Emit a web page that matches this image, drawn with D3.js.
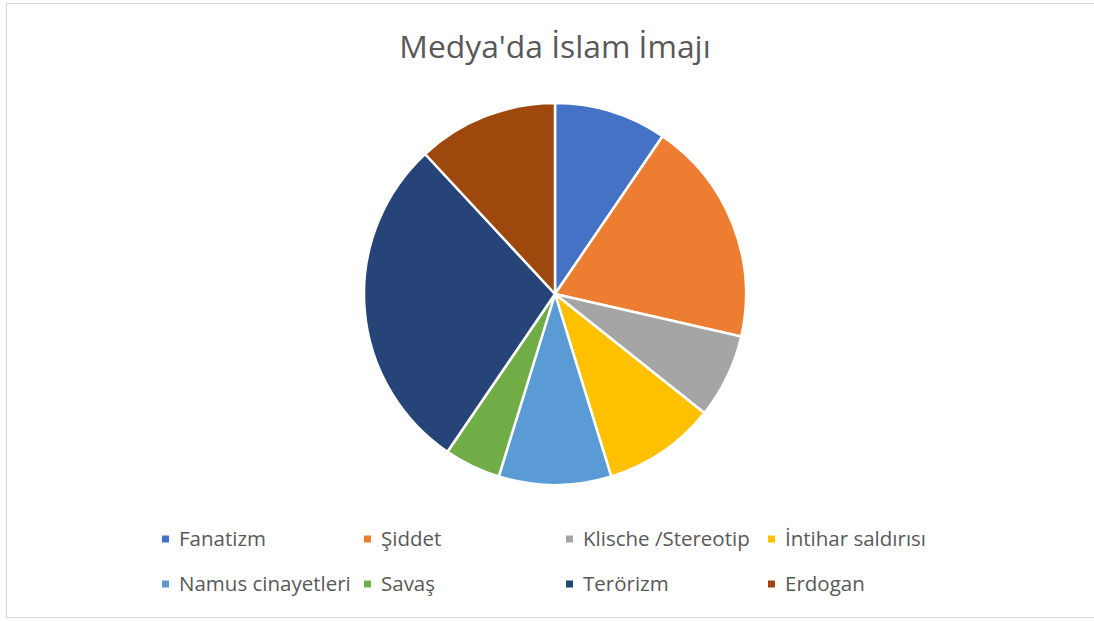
<!DOCTYPE html>
<html>
<head>
<meta charset="utf-8">
<script src="https://cdn.jsdelivr.net/npm/d3@7"></script>
<style>
  body { margin: 0; background: #fff; }
  svg text { font-family: "Open Sans", "Liberation Sans", sans-serif; fill: #595959; }
</style>
</head>
<body>
<svg id="chart" width="1094" height="621"></svg>
<script>
const categories = ['Fanatizm', 'Şiddet', 'Klische /Stereotip', 'İntihar saldırısı', 'Namus cinayetleri', 'Savaş', 'Terörizm', 'Erdogan']
const values = [8, 16, 6, 8, 8, 4, 24, 10]
const colors = ['#4472C4', '#ED7D31', '#A5A5A5', '#FFC000', '#5B9BD5', '#70AD47', '#264478', '#9E480E']
const title = "Medya'da İslam İmajı"

const data = categories.map((c, i) => ({ name: c, value: values[i], color: colors[i] }))

const svg = d3.select('#chart')

// chart area border
svg.append('rect')
  .attr('x', 6.5).attr('y', 3.5)
  .attr('width', 1094).attr('height', 614)
  .attr('fill', 'none')
  .attr('stroke', '#d9d9d9')
  .attr('stroke-width', 1)

svg.append('text')
  .attr('x', 555).attr('y', 57.5)
  .attr('text-anchor', 'middle')
  .attr('font-size', 31.8)
  .text(title)

const pie = d3.pie().sort(null).value(d => d.value)
const arc = d3.arc().innerRadius(0).outerRadius(191)

const g = svg.append('g').attr('transform', 'translate(555,294)')
g.selectAll('path')
  .data(pie(data))
  .join('path')
  .attr('d', arc)
  .attr('fill', d => d.data.color)
  .attr('stroke', '#fff')
  .attr('stroke-width', 2.5)
  .attr('stroke-linejoin', 'round')

// legend: 4 columns, 2 rows
const colX = d3.scaleOrdinal().domain([0, 1, 2, 3]).range([162, 364, 566, 768])
const rowY = d3.scaleOrdinal().domain([0, 1]).range([539, 584])

const legend = svg.append('g')
const item = legend.selectAll('g')
  .data(data)
  .join('g')
  .attr('transform', (d, i) => `translate(${colX(i % 4)},${rowY(Math.floor(i / 4))})`)

item.append('rect')
  .attr('x', 0).attr('y', -3.5)
  .attr('width', 7).attr('height', 7)
  .attr('fill', d => d.color)

item.append('text')
  .attr('x', 17).attr('y', 6.8)
  .attr('font-size', 20.5)
  .text(d => d.name)
</script>
</body>
</html>
